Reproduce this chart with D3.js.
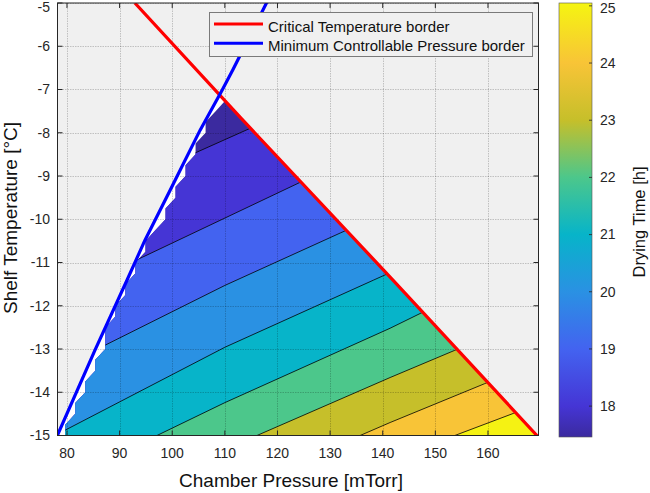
<!DOCTYPE html>
<html><head><meta charset="utf-8">
<script src="https://cdn.jsdelivr.net/npm/d3@7"></script>
<style>
body{margin:0;background:#fff;}
svg{display:block;font-family:"Liberation Sans",Arial,Helvetica,sans-serif;}
</style>
</head><body>
<svg id="chart" width="650" height="493"></svg>
<script>
// ---------------- DATA ----------------
const pressureTicks = [80, 90, 100, 110, 120, 130, 140, 150, 160];
const temperatureTicks = [-15, -14, -13, -12, -11, -10, -9, -8, -7, -6, -5];
const dryingTimeTicks = [18, 19, 20, 21, 22, 23, 24, 25];
const pressureRange = [78.2, 169.6];
const temperatureRange = [-15, -5];
const dryingTimeRange = [17.46, 25.05];

// borders [pressure mTorr, temperature °C]
const criticalTempBorder = [[92.9, -5.0], [113.2, -7.68], [141.9, -11.40], [169.6, -15.04]];
const minPressureBorder = [[78.1, -15.02], [85.3, -13.03], [91.4, -11.41], [94.8, -10.49], [99.6, -9.33],
                           [105.3, -7.94], [109.5, -7.01], [111.5, -6.55], [118.2, -4.93]];

// contour lines of drying time [h]
const contourLevels = [18, 19, 20, 21, 22, 23, 24, 25];
const contour18 = [[104.3, -8.47], [114.4, -7.92]];
const contour19 = [[94.3, -10.88], [123.9, -9.17]];
const contour20 = [[85.3, -13.03], [110.0, -11.53], [131.9, -10.32]];
const contour21 = [[79.6, -14.88], [110.0, -12.96], [138.2, -11.41]];
const contour22 = [[97.1, -15.0], [110.0, -14.24], [141.4, -12.52], [147.1, -12.18]];
const contour23 = [[116.1, -15.0], [141.4, -13.66], [153.7, -13.03]];
const contour24 = [[135.7, -15.0], [141.4, -14.70], [159.4, -13.80]];
const contour25 = [[153.7, -15.0], [164.8, -14.49]];
const contourLines = [contour18, contour19, contour20, contour21, contour22, contour23, contour24, contour25];

const legendLabels = ["Critical Temperature border", "Minimum Controllable Pressure border"];

// ---------------- STYLE ----------------
const colorStopValues = [17.46, 18, 19, 20, 21, 22, 23, 24, 25, 25.05];
const colorStopColors = ['#3b2a9f', '#4535d5', '#4363f0', '#2a91e3', '#07b4c9', '#4cc78b', '#c6bf2a', '#f8c437', '#f5f213', '#f6f514'];
// sampling grid of the computed surface (gives the jagged masked edge)
const gridOriginP = 77.78, gridStepP = 1.904, gridCols = 49, gridRows = 40;

// ---------------- RENDER ----------------
const svg = d3.select('#chart');
const plot = {l: 57.5, r: 538.5, t: 3, b: 435.5};
const x = d3.scaleLinear().domain(pressureRange).range([plot.l, plot.r]);
const y = d3.scaleLinear().domain(temperatureRange).range([plot.b, plot.t]);
const color = d3.scaleLinear().domain(colorStopValues).range(colorStopColors).interpolate(d3.interpolateRgb);
const ink = '#262626';
const defs = svg.append('defs');

defs.append('clipPath').attr('id', 'axclip').append('rect')
  .attr('x', plot.l).attr('y', plot.t).attr('width', plot.r - plot.l).attr('height', plot.b - plot.t);

const toPath = pts => 'M' + pts.map(p => x(p[0]).toFixed(2) + ',' + y(p[1]).toFixed(2)).join('L') + 'Z';

function extendP(pts, pa, pb) {
  const a = pts[0], a2 = pts[1], n = pts.length, z = pts[n - 1], z2 = pts[n - 2];
  const sa = (a2[1] - a[1]) / (a2[0] - a[0]), sz = (z[1] - z2[1]) / (z[0] - z2[0]);
  return [[pa, a[1] + sa * (pa - a[0])], ...pts, [pb, z[1] + sz * (pb - z[0])]];
}
const belowPoly = pts => { const e = extendP(pts, 30, 220); return [...e, [220, -40], [30, -40]]; };

const blueP = d3.scaleLinear().domain(minPressureBorder.map(d => d[1])).range(minPressureBorder.map(d => d[0]));
const redT = d3.scaleLinear().domain(criticalTempBorder.map(d => d[0])).range(criticalTempBorder.map(d => d[1]));
const feasible = (p, t) => p >= blueP(t) - 1e-9 && t <= redT(p) + 0.035;

const blueSwap = minPressureBorder.map(d => [d[1], d[0]]);
const blueExt = extendP(blueSwap, -30, 10).map(d => [d[1], d[0]]);
const rightOfBlue = [...blueExt, [300, 10], [300, -30]];

defs.append('clipPath').attr('id', 'blueclip').append('path').attr('d', toPath(rightOfBlue));
defs.append('clipPath').attr('id', 'redclip').append('path').attr('d', toPath(belowPoly(criticalTempBorder)));

// masked region edge: cells with all corners valid, plus triangles for cells with 3 valid corners
const dT = (temperatureRange[1] - temperatureRange[0]) / gridRows;
let stair = '';
for (let i = 0; i < gridCols; i++) {
  for (let j = 0; j < gridRows; j++) {
    const p0 = gridOriginP + i * gridStepP, p1 = p0 + gridStepP;
    const t0 = temperatureRange[0] + j * dT, t1 = t0 + dT;
    const c = [[p0, t0], [p1, t0], [p1, t1], [p0, t1]].filter(q => feasible(q[0], q[1]));
    if (c.length >= 3) stair += toPath(c);
  }
}
defs.append('clipPath').attr('id', 'stairclip').append('path').attr('d', stair);

const axes = svg.append('g').attr('clip-path', 'url(#axclip)');
axes.append('rect').attr('x', plot.l).attr('y', plot.t).attr('width', plot.r - plot.l).attr('height', plot.b - plot.t)
  .attr('fill', '#f0f0f0');

axes.append('g').attr('clip-path', 'url(#blueclip)')
  .append('g').attr('clip-path', 'url(#redclip)')
  .append('rect').attr('x', plot.l).attr('y', plot.t).attr('width', plot.r - plot.l).attr('height', plot.b - plot.t)
  .attr('fill', '#ffffff');

const fills = axes.append('g').attr('clip-path', 'url(#stairclip)');
fills.append('rect').attr('x', plot.l).attr('y', plot.t).attr('width', plot.r - plot.l).attr('height', plot.b - plot.t)
  .attr('fill', color(dryingTimeRange[0]));
contourLines.forEach((ln, k) => {
  fills.append('path').attr('d', toPath(belowPoly(ln))).attr('fill', color(contourLevels[k]));
});
const lineGen = d3.line().x(d => x(d[0])).y(d => y(d[1]));
contourLines.forEach(ln => {
  fills.append('path').attr('d', lineGen(extendP(ln, 30, 220))).attr('fill', 'none')
    .attr('stroke', '#000').attr('stroke-width', 0.8);
});

// grid
const grid = axes.append('g').attr('stroke', '#000').attr('stroke-opacity', 0.2).attr('stroke-width', 1)
  .attr('stroke-dasharray', '1.5,1');
pressureTicks.forEach(p => grid.append('line').attr('x1', Math.round(x(p)) + 0.5).attr('x2', Math.round(x(p)) + 0.5)
  .attr('y1', plot.t).attr('y2', plot.b));
temperatureTicks.forEach(t => grid.append('line').attr('y1', Math.round(y(t)) + 0.5).attr('y2', Math.round(y(t)) + 0.5)
  .attr('x1', plot.l).attr('x2', plot.r));

axes.append('path').attr('d', lineGen(criticalTempBorder)).attr('fill', 'none').attr('stroke', '#ff0000').attr('stroke-width', 3.2);
axes.append('path').attr('d', lineGen(minPressureBorder)).attr('fill', 'none').attr('stroke', '#0000ff').attr('stroke-width', 3.2);

svg.append('rect').attr('x', plot.l).attr('y', plot.t).attr('width', plot.r - plot.l).attr('height', plot.b - plot.t)
  .attr('fill', 'none').attr('stroke', ink).attr('stroke-width', 1);
const tk = svg.append('g').attr('stroke', ink).attr('stroke-width', 1);
pressureTicks.forEach(p => {
  const xx = x(p);
  tk.append('line').attr('x1', xx).attr('x2', xx).attr('y1', plot.b).attr('y2', plot.b - 5);
  tk.append('line').attr('x1', xx).attr('x2', xx).attr('y1', plot.t).attr('y2', plot.t + 5);
});
temperatureTicks.forEach(t => {
  const yy = y(t);
  tk.append('line').attr('y1', yy).attr('y2', yy).attr('x1', plot.l).attr('x2', plot.l + 5);
  tk.append('line').attr('y1', yy).attr('y2', yy).attr('x1', plot.r).attr('x2', plot.r - 5);
});
svg.append('g').selectAll('text').data(pressureTicks).join('text')
  .attr('x', d => x(d)).attr('y', 458).attr('text-anchor', 'middle')
  .attr('font-size', 14).attr('fill', ink).text(d => d);
svg.append('g').selectAll('text').data(temperatureTicks).join('text')
  .attr('x', 50).attr('y', d => Math.max(y(d), 7.5)).attr('dy', '0.35em').attr('text-anchor', 'end')
  .attr('font-size', 14).attr('fill', ink).text(d => d);

svg.append('text').attr('x', 291).attr('y', 487).attr('text-anchor', 'middle').attr('font-size', 19)
  .attr('fill', '#111').text('Chamber Pressure [mTorr]');
svg.append('text').attr('transform', 'translate(17,218) rotate(-90)').attr('text-anchor', 'middle').attr('font-size', 19)
  .attr('fill', '#111').text('Shelf Temperature [°C]');

const lg = svg.append('g');
lg.append('rect').attr('x', 209.5).attr('y', 12.5).attr('width', 323).attr('height', 44)
  .attr('fill', '#f0f0f0').attr('stroke', '#7a7a7a').attr('stroke-width', 1);
const legendColors = ['#ff0000', '#0000ff'];
legendLabels.forEach((lab, i) => {
  const yy = 24 + i * 19.3;
  lg.append('line').attr('x1', 214).attr('x2', 263).attr('y1', yy).attr('y2', yy)
    .attr('stroke', legendColors[i]).attr('stroke-width', 3);
  lg.append('text').attr('x', 268).attr('y', yy + 7.8).attr('font-size', 15).attr('fill', '#111').text(lab);
});

const cb = {l: 559, r: 592, t: 3, b: 437};
const cy = d3.scaleLinear().domain(dryingTimeRange).range([cb.b, cb.t]);
const grad = defs.append('linearGradient').attr('id', 'cbgrad').attr('x1', 0).attr('y1', 1).attr('x2', 0).attr('y2', 0);
colorStopValues.forEach((v, i) => grad.append('stop')
  .attr('offset', (v - dryingTimeRange[0]) / (dryingTimeRange[1] - dryingTimeRange[0]))
  .attr('stop-color', colorStopColors[i]));
svg.append('rect').attr('x', cb.l).attr('y', cb.t).attr('width', cb.r - cb.l).attr('height', cb.b - cb.t)
  .attr('fill', 'url(#cbgrad)').attr('stroke', '#555').attr('stroke-width', 0.6);
dryingTimeTicks.forEach(v => {
  svg.append('line').attr('x1', cb.r).attr('x2', cb.r - 3).attr('y1', cy(v)).attr('y2', cy(v))
    .attr('stroke', ink).attr('stroke-width', 0.8);
});
svg.append('g').selectAll('text').data(dryingTimeTicks).join('text')
  .attr('x', 600).attr('y', d => Math.max(cy(d), 8)).attr('dy', '0.35em').attr('font-size', 14).attr('fill', ink).text(d => d);
svg.append('text').attr('transform', 'translate(645,222) rotate(-90)').attr('text-anchor', 'middle').attr('font-size', 16.5)
  .attr('fill', '#111').text('Drying Time [h]');
</script>
</body></html>
